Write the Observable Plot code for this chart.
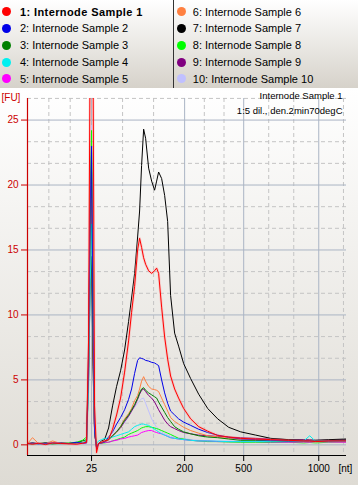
<!DOCTYPE html>
<html><head><meta charset="utf-8">
<script src="https://cdn.jsdelivr.net/npm/d3@7"></script>
<script src="https://cdn.jsdelivr.net/npm/@observablehq/plot@0.6"></script>
<style>
html,body{margin:0;padding:0;background:#fff;}
#wrap{width:358px;height:485px;position:relative;overflow:hidden;font-family:"Liberation Sans",Arial,sans-serif;}
#legend{position:relative;height:88px;background:linear-gradient(#ffffff,#d6d2ca);}
.col{position:absolute;top:3.3px;}
.item{height:16.8px;display:flex;align-items:center;font-size:11px;color:#000;white-space:nowrap;}
.dot{width:9px;height:9px;border-radius:50%;flex:none;}
#sep{position:absolute;left:173px;top:0;width:1px;height:88px;background:#333;}
#chart{height:397px;background:linear-gradient(#ffffff,#dedbd4);}
#chart svg{display:block;}
</style></head>
<body><div id="wrap"><div id="legend"><div id="sep"></div></div><div id="chart"></div></div>
<script>
const sampleNames = ["1: Internode Sample 1","2: Internode Sample 2","3: Internode Sample 3","4: Internode Sample 4","5: Internode Sample 5","6: Internode Sample 6","7: Internode Sample 7","8: Internode Sample 8","9: Internode Sample 9","10: Internode Sample 10"];
const sampleColors = ["#ff0000","#0000e8","#008000","#00f0f0","#ff00ff","#ff8040","#000000","#00ff00","#800080","#c0c0ff"];
const ladderNt = [25, 200, 500, 1000];
const ladderTime = [29.00, 43.53, 52.75, 64.47];
const yTicks = [0, 5, 10, 15, 20, 25];
const xDomain = [19.0, 68.8];
const yDomain = [-0.82, 26.66];
const title = "Internode Sample 1";
const subtitle = "1:5 dil., den.2min70degC";

const times = [19.00,19.78,20.72,21.81,22.91,24.16,25.41,26.66,27.59,28.22,
28.53,28.77,29.00,29.23,29.47,29.78,30.09,30.56,31.03,31.66,
32.28,32.91,33.53,34.16,34.78,35.25,35.72,36.19,36.50,36.81,
37.13,37.44,37.91,38.38,38.84,39.16,39.47,39.94,40.41,40.88,
41.34,41.97,42.59,43.38,44.47,45.72,47.13,48.69,50.41,52.28,
54.63,56.97,59.78,62.13,63.06,64.00,66.03,68.84];

const s1 = [0.10,0.05,0.12,0.02,0.15,0.10,0.08,0.05,0.12,0.20,
8.0,30,32,30,3.0,-0.6,0.10,0.20,0.30,0.40,
1.2,2.3,3.6,5.6,8.0,10.2,12.2,15.0,15.9,15.2,
14.4,13.9,13.4,13.2,13.4,13.6,13.2,10.6,8.3,6.6,
5.3,4.3,3.6,2.8,2.0,1.4,1.05,0.72,0.60,0.50,
0.45,0.40,0.35,0.30,0.30,0.25,0.30,0.30];
const s2 = [0.10,0.12,0.08,0.10,0.15,0.12,0.10,0.20,0.12,0.15,
6.0,18.0,23.0,10.0,1.0,-0.3,0.10,0.15,0.20,0.60,
1.0,1.6,2.1,2.7,3.5,4.3,5.5,6.5,6.7,6.65,
6.6,6.5,6.45,6.35,6.3,6.2,6.1,5.0,4.0,3.2,
2.6,2.3,2.0,1.75,1.5,1.2,0.95,0.75,0.58,0.45,
0.40,0.35,0.30,0.30,0.30,0.28,0.30,0.30];
const s3 = [0.10,0.08,0.12,0.10,0.08,0.12,0.10,0.15,0.30,0.40,
6.0,17.0,22.5,9.0,1.0,-0.2,0.10,0.15,0.25,0.40,
0.7,1.0,1.4,1.9,2.3,2.7,3.1,3.6,4.0,4.3,
4.4,4.2,4.0,3.85,3.7,3.6,3.3,2.9,2.5,2.1,
1.8,1.4,1.2,1.0,0.85,0.7,0.6,0.55,0.45,0.35,
0.35,0.32,0.30,0.30,0.30,0.30,0.30,0.35];
const s4 = [0.05,0.10,0.08,0.05,0.10,0.08,0.10,0.12,0.15,0.35,
4.0,12.0,17.0,9.8,1.0,0.1,0.30,0.40,0.50,0.50,
0.6,0.7,0.8,0.9,1.0,1.2,1.4,1.5,1.55,1.6,
1.6,1.55,1.5,1.35,1.2,1.1,1.0,0.85,0.75,0.65,
0.55,0.5,0.45,0.4,0.35,0.3,0.3,0.28,0.25,0.25,
0.25,0.25,0.25,0.30,0.70,0.25,0.25,0.28];
const s5 = [0.08,0.10,0.12,0.08,0.10,0.12,0.10,0.08,0.12,0.15,
7.0,18.0,20.8,10.0,1.0,-0.1,0.10,0.15,0.20,0.20,
0.3,0.35,0.45,0.5,0.6,0.65,0.7,0.75,0.85,0.95,
1.0,1.05,1.1,1.1,1.0,0.95,0.9,0.85,0.75,0.65,
0.55,0.5,0.45,0.4,0.35,0.3,0.3,0.25,0.25,0.25,
0.25,0.22,0.20,0.22,0.20,0.25,0.22,0.20];
const s6 = [0.10,0.55,0.10,0.08,0.30,0.10,0.08,0.10,0.12,0.15,
5.0,14.0,19.0,8.0,1.0,-0.2,0.10,0.10,0.20,0.40,
0.7,1.0,1.4,2.0,2.4,2.8,3.4,3.8,4.3,4.9,
5.25,4.9,4.5,4.3,4.25,4.2,4.1,3.6,3.1,2.6,
2.1,1.8,1.6,1.35,1.1,0.9,0.7,0.6,0.5,0.45,
0.38,0.35,0.32,0.30,0.30,0.30,0.30,0.30];
const s7 = [0.10,0.15,0.10,0.15,0.10,0.15,0.10,0.12,0.15,0.30,
5.0,12.0,14.5,6.0,1.0,-0.2,0.10,0.30,0.40,1.3,
3.0,4.5,5.7,7.3,9.5,11.3,13.2,16.0,18.0,21.5,
24.3,23.6,21.3,20.3,19.6,20.3,21.0,20.5,19.2,17.2,
11.5,8.6,7.6,6.25,5.1,3.9,2.8,2.0,1.35,1.0,
0.75,0.5,0.4,0.35,0.35,0.35,0.40,0.45];
const s8 = [0.10,0.08,0.10,0.12,0.08,0.10,0.15,0.20,0.35,0.60,
7.0,19.0,24.2,13.0,1.2,0.0,0.10,0.15,0.15,0.20,
0.3,0.4,0.5,0.6,0.8,0.9,1.0,1.1,1.2,1.3,
1.35,1.4,1.4,1.35,1.3,1.25,1.2,1.1,1.0,0.9,
0.8,0.65,0.5,0.45,0.35,0.3,0.25,0.25,0.22,0.2,
0.2,0.18,0.2,0.15,0.18,0.15,0.2,0.22];
const s9 = [0.12,0.10,0.08,0.12,0.10,0.10,0.12,0.10,0.15,0.20,
5.0,15.0,21.0,8.0,1.0,-0.2,0.10,0.15,0.20,0.40,
0.7,1.0,1.3,1.8,2.2,2.6,3.0,3.5,3.9,4.2,
4.3,4.1,3.8,3.6,3.3,3.0,2.7,2.3,1.9,1.6,
1.4,1.25,1.1,0.95,0.85,0.75,0.7,0.65,0.6,0.55,
0.5,0.45,0.4,0.4,0.38,0.35,0.35,0.4];
const s10 = [0.10,0.12,0.10,0.08,0.12,0.10,0.12,0.10,0.15,0.30,
8.0,20.0,24.6,12.0,1.5,0.0,0.15,0.2,0.3,0.5,
0.8,1.1,1.4,1.7,2.2,2.6,2.9,3.2,3.4,3.55,
3.6,3.2,2.6,2.0,1.6,1.35,1.2,1.0,0.85,0.75,
0.65,0.6,0.55,0.5,0.4,0.35,0.3,0.3,0.3,0.28,
0.28,0.25,0.25,0.25,0.25,0.25,0.25,0.25];
const series = [s1,s2,s3,s4,s5,s6,s7,s8,s9,s10];

// Legend
const legend = document.getElementById("legend");
[[0,5,1.5,9.5],[5,10,177.3,6.5]].forEach(([a,b,left,gap])=>{
  const col = document.createElement("div");
  col.className="col"; col.style.left = left+"px";
  for(let i=a;i<b;i++){
    const it=document.createElement("div"); it.className="item";
    const d=document.createElement("span"); d.className="dot"; d.style.background=sampleColors[i]; d.style.marginRight=gap+"px";
    const t=document.createElement("span"); t.textContent=sampleNames[i];
    if(i===0){t.style.fontWeight="bold"; t.style.letterSpacing="0.4px";}
    it.appendChild(d); it.appendChild(t); col.appendChild(it);
  }
  legend.appendChild(col);
});

// Grid positions
const yMinor = yTicks.flatMap(t=>[t+5/3, t+10/3]).filter(v=>v<=yDomain[1]+0.01);
const xBreaks = [xDomain[0], ...ladderTime];
const xMinor = [];
for(let i=0;i<xBreaks.length-1;i++){const a=xBreaks[i], b=xBreaks[i+1]; xMinor.push(a+(b-a)/3, a+2*(b-a)/3);}
{const n=ladderTime.length; xMinor.push(ladderTime[n-1]+(ladderTime[n-1]-ladderTime[n-2])/3 - 0.05);}
const labelMap = new Map(ladderTime.map((t,i)=>[t, String(ladderNt[i])]));
const red = "#cc0000";

const lineMarks = [];
for(let k=series.length-1;k>=1;k--){
  lineMarks.push(Plot.lineY(series[k], {x: times, stroke: sampleColors[k], strokeWidth: 1, clip: true}));
}
lineMarks.push(Plot.lineY(s1, {x: times, stroke: "#ff9090", strokeWidth: 2.6, strokeOpacity: 0.35, clip: true}));
lineMarks.push(Plot.lineY(s1, {x: times, stroke: sampleColors[0], strokeWidth: 1, clip: true}));

const chart = Plot.plot({
  width: 358, height: 397,
  marginTop: 10, marginBottom: 30, marginLeft: 27, marginRight: 12,
  x: {domain: xDomain},
  y: {domain: yDomain},
  style: {background: "transparent", fontFamily: "'Liberation Sans', Arial, sans-serif", fontSize: "9.5px", overflow: "visible"},
  marks: [
    Plot.ruleY(yMinor, {stroke: "#c4c4c4", strokeDasharray: "4,3"}),
    Plot.ruleX(xMinor, {stroke: "#c4c4c4", strokeDasharray: "4,3"}),
    Plot.ruleY(yTicks, {stroke: "#aab4c4"}),
    Plot.ruleX(ladderTime, {stroke: "#aab4c4"}),
    ...lineMarks,
    Plot.ruleX([xDomain[0]], {stroke: red, strokeWidth: 1.2}),
    Plot.ruleY([yDomain[0]], {stroke: "#000"}),
    Plot.axisY({ticks: yTicks, tickSize: 6, tickPadding: 3, color: red, label: null, fontSize: 10}),
    Plot.axisX({ticks: ladderTime, tickFormat: d => labelMap.get(d), tickSize: 6, tickPadding: 3, label: null, fontSize: 10}),
    Plot.text([title], {text: d=>d, frameAnchor: "top-right", dx: -4, dy: -3, textAnchor: "end", lineAnchor: "middle", fill: "#000"}),
    Plot.text([subtitle], {text: d=>d, frameAnchor: "top-right", dx: -4, dy: 12, textAnchor: "end", lineAnchor: "middle", fill: "#000"}),
    Plot.text(["[FU]"], {text: d=>d, frameAnchor: "top-left", dx: -26, dy: -1, textAnchor: "start", lineAnchor: "middle", fill: red, fontSize: 10}),
    Plot.text(["[nt]"], {text: d=>d, frameAnchor: "bottom-right", dx: -8, dy: 13, textAnchor: "start", lineAnchor: "middle", fill: "#000", fontSize: 10})
  ]
});
document.getElementById("chart").appendChild(chart);
</script></body></html>
